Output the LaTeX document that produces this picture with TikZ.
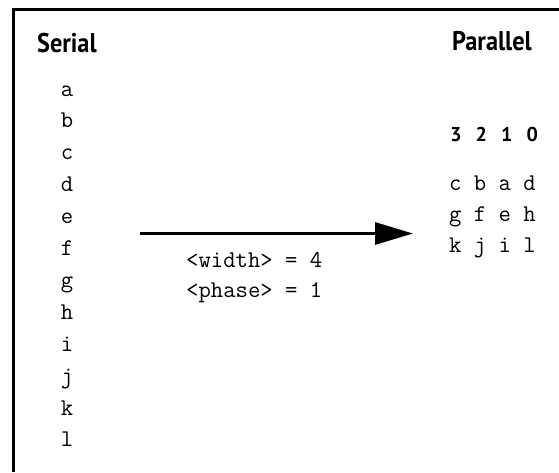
\documentclass[tikz,border=0pt]{standalone}
\usepackage{fontspec}
\newfontfamily\headfont{PT Sans}
\usetikzlibrary{arrows.meta}
\newcommand{\headtext}[1]{\scalebox{0.9}[1]{#1}}

\begin{document}
\begin{tikzpicture}[x=1pt,y=-1pt,
  head/.style={font=\headfont\bfseries\fontsize{27}{30}\selectfont,anchor=base west,inner sep=0pt},
  code/.style={font=\ttfamily\fontsize{24}{28}\selectfont,inner sep=0pt},
  bitnum/.style={font=\headfont\bfseries\fontsize{20}{24}\selectfont,anchor=base,inner sep=0pt}]
\useasboundingbox (0,0) rectangle (559,472);
\draw[line width=3pt] (13.5,472) -- (13.5,9.5) -- (559,9.5);
\node[head] (serial) at (37,52) {\headtext{Serial}};
\node[head] (parallel) at (452,50) {\headtext{Parallel}};
\foreach \c [count=\i from 0] in {a,...,l}
  \node[code,anchor=base] (s\c) at (67,96+31.9*\i) {\c};
\foreach \d [count=\i from 0] in {3,2,1,0}
  \node[bitnum] (bit\d) at (456+25.4*\i,141) {\d};
\node[code,anchor=base west] (row0) at (449,190) {c b a d};
\node[code,anchor=base west] (row1) at (449,221) {g f e h};
\node[code,anchor=base west] (row2) at (449,252) {k j i l};
\coordinate (from) at (140,233.5);
\coordinate (to) at (413,233.5);
\draw[line width=3pt,-{Triangle[length=38pt,width=22pt]}] (from) -- (to);
\node[code,anchor=base west] (widthlbl) at (186,267) {<width> = 4};
\node[code,anchor=base west] (phaselbl) at (186,297) {<phase> = 1};
\end{tikzpicture}
\end{document}
